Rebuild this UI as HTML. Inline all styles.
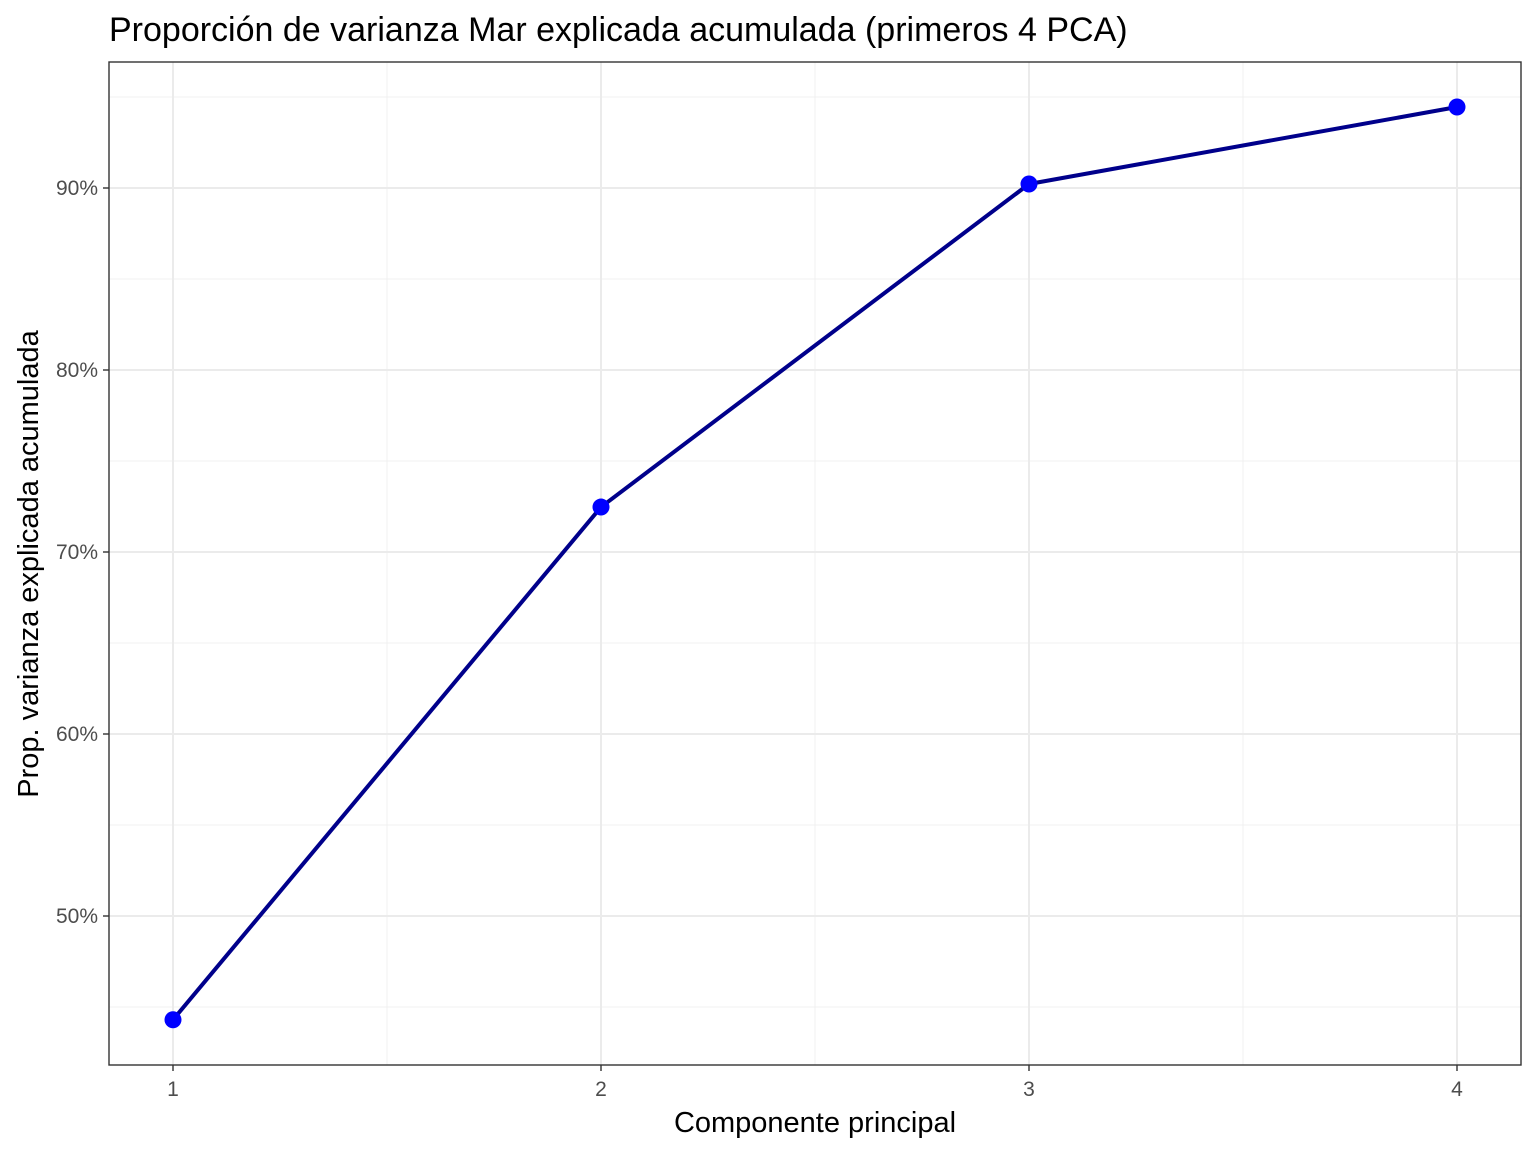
<!DOCTYPE html>
<html><head><meta charset="utf-8"><style>
body{margin:0;background:#fff}
text{font-family:"Liberation Sans",Arial,sans-serif}
</style></head><body>
<svg id="chart" width="1536" height="1152" xmlns="http://www.w3.org/2000/svg">
<rect width="1536" height="1152" fill="#fff"/>
<text x="109" y="41" font-size="34" fill="#000">Proporción de varianza Mar explicada acumulada (primeros 4 PCA)</text>
<g id="grid"></g>
<g id="series"></g>
<rect x="109" y="62" width="1412" height="1003" fill="none" stroke="#333" stroke-width="1.4"/>
<g id="axes"></g>
<text x="815" y="1132" font-size="29" text-anchor="middle" fill="#000">Componente principal</text>
<text transform="translate(38,564) rotate(-90)" font-size="29" text-anchor="middle" fill="#000">Prop. varianza explicada acumulada</text>
</svg>
<script>
const components=[1,2,3,4];
const cumVar=[44.3,72.47,90.22,94.45];
const yTicks=[50,60,70,80,90];
const yTickLabels=["50%","60%","70%","80%","90%"];
const xTickLabels=["1","2","3","4"];
const NS="http://www.w3.org/2000/svg";
function xs(v){return 173+(v-1)*428;}
function ys(v){return 916-(v-50)*18.2;}
function mk(tag,attrs,parent){const e=document.createElementNS(NS,tag);for(const k in attrs)e.setAttribute(k,attrs[k]);parent.appendChild(e);return e;}
const grid=document.getElementById('grid'),series=document.getElementById('series'),axes=document.getElementById('axes');
for(let v=45;v<=95;v+=10){const y=ys(v);if(y<62||y>1065)continue;const l=mk('line',{x1:109,x2:1521,y1:y,y2:y,stroke:'#f0f0f0','stroke-width':1},grid);

}
for(let v=1.5;v<4;v+=1){const x=xs(v);const l=mk('line',{x1:x,x2:x,y1:62,y2:1065,stroke:'#f0f0f0','stroke-width':1},grid);

}
yTicks.forEach((v,i)=>{const y=ys(v);
const l=mk('line',{x1:109,x2:1521,y1:y,y2:y,stroke:'#ebebeb','stroke-width':2},grid);


const t=mk('line',{x1:103,x2:109,y1:y,y2:y,stroke:'#333','stroke-width':1.4},axes);


const tx=mk('text',{x:98,y:y+7,'font-size':21,'text-anchor':'end',fill:'#4d4d4d'},axes);tx.textContent=yTickLabels[i];

});
components.forEach((c,i)=>{const x=xs(c);
const l=mk('line',{x1:x,x2:x,y1:62,y2:1065,stroke:'#ebebeb','stroke-width':2},grid);


const t=mk('line',{x1:x,x2:x,y1:1065,y2:1071,stroke:'#333','stroke-width':1.4},axes);


const tx=mk('text',{x:x,y:1096,'font-size':21,'text-anchor':'middle',fill:'#4d4d4d'},axes);tx.textContent=xTickLabels[i];

});
const pts=components.map((c,i)=>xs(c)+','+ys(cumVar[i])).join(' ');
const pl=mk('polyline',{points:pts,fill:'none',stroke:'#00008b','stroke-width':4,'stroke-linejoin':'round'},series);


components.forEach((c,i)=>{const p=mk('circle',{cx:xs(c),cy:ys(cumVar[i]),r:8.5,fill:'#0000ff'},series);

});
</script>
</body></html>
